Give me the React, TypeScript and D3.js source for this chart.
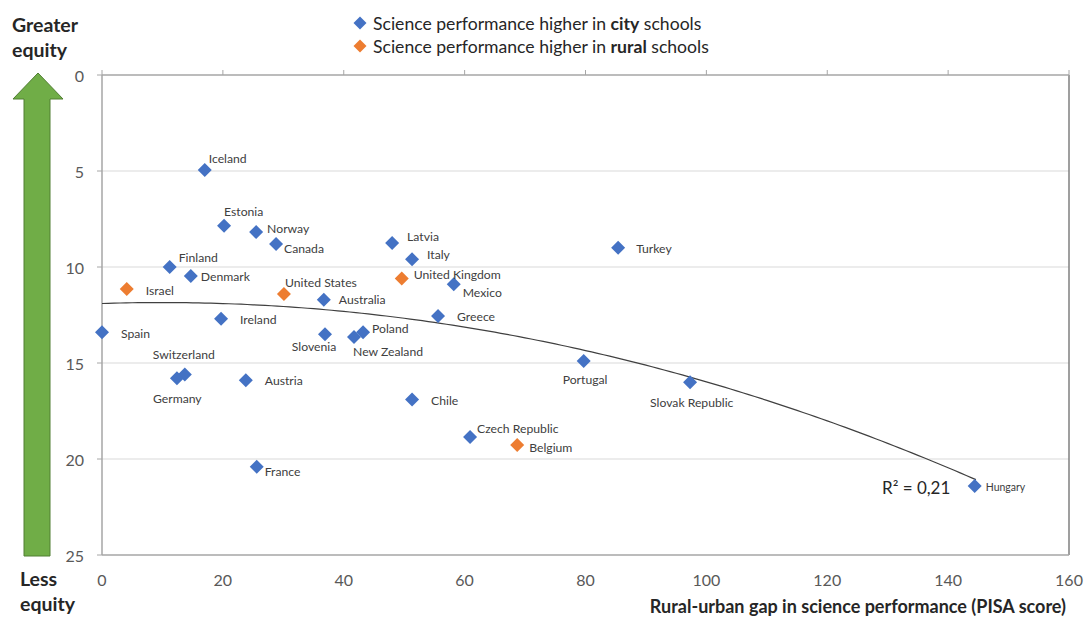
import React from "react";
import * as d3 from "d3";

const countries = [
  "Iceland", "Estonia", "Norway", "Canada", "Finland", "Denmark", "Israel", "United States",
  "Australia", "Ireland", "Spain", "Slovenia", "New Zealand", "Poland", "Switzerland", "Germany",
  "Austria", "France", "Latvia", "Italy", "United Kingdom", "Mexico", "Greece", "Chile",
  "Czech Republic", "Belgium", "Portugal", "Turkey", "Slovak Republic", "Hungary",
];
const gapValues = [
  17.0, 20.2, 25.5, 28.8, 11.2, 14.7, 4.1, 30.1,
  36.7, 19.7, 0.0, 36.9, 41.7, 43.2, 13.7, 12.4,
  23.8, 25.6, 48.0, 51.3, 49.6, 58.2, 55.6, 51.3,
  60.9, 68.7, 79.7, 85.4, 97.3, 144.4,
];
const equityValues = [
  4.95, 7.85, 8.18, 8.8, 10.0, 10.47, 11.15, 11.4,
  11.7, 12.7, 13.4, 13.5, 13.65, 13.4, 15.6, 15.8,
  15.9, 20.4, 8.75, 9.6, 10.6, 10.9, 12.55, 16.9,
  18.85, 19.27, 14.9, 9.0, 16.0, 21.4,
];
// "city" = higher in city schools, "rural" = higher in rural schools
const groups = [
  "city", "city", "city", "city", "city", "city", "rural", "rural",
  "city", "city", "city", "city", "city", "city", "city", "city",
  "city", "city", "city", "city", "rural", "city", "city", "city",
  "city", "rural", "city", "city", "city", "city",
];
const xTicks = [0, 20, 40, 60, 80, 100, 120, 140, 160];
const yTicks = [0, 5, 10, 15, 20, 25];
const trendCoefficients = [11.9, -0.0100, 0.000508]; // a + b x + c x^2
const rSquaredLabel = "R² = 0,21";

// label placement (offsets from point, px) and anchors
const labelPlacement: Record<string, [number, number, string]> = {
  "Iceland": [4, -12, "start"],
  "Estonia": [0, -14, "start"],
  "Norway": [11, -4, "start"],
  "Canada": [8, 5, "start"],
  "Finland": [9, -10, "start"],
  "Denmark": [10, 0, "start"],
  "Israel": [19, 1, "start"],
  "United States": [1, -11, "start"],
  "Australia": [15, 0, "start"],
  "Ireland": [19, 1, "start"],
  "Spain": [19, 1, "start"],
  "Slovenia": [-11, 12, "middle"],
  "New Zealand": [-1, 14, "start"],
  "Poland": [9, -4, "start"],
  "Switzerland": [-32, -20, "start"],
  "Germany": [-24, 20, "start"],
  "Austria": [19, 0, "start"],
  "France": [8, 5, "start"],
  "Latvia": [15, -7, "start"],
  "Italy": [15, -5, "start"],
  "United Kingdom": [12, -4, "start"],
  "Mexico": [9, 8, "start"],
  "Greece": [19, 1, "start"],
  "Chile": [19, 1, "start"],
  "Czech Republic": [7, -8, "start"],
  "Belgium": [12, 3, "start"],
  "Portugal": [-21, 18, "start"],
  "Turkey": [18, 1, "start"],
  "Slovak Republic": [-40, 20, "start"],
  "Hungary": [11, 1, "start"],
};

const W = 1084;
const H = 617;
const M = { left: 102, right: 1069, top: 75, bottom: 555 };
const FONT = "Lato, 'Open Sans', sans-serif";
const colors: Record<string, string> = { city: "#4472C4", rural: "#ED7D31" };

function Diamond({ cx, cy, r, fill }: { cx: number; cy: number; r: number; fill: string }) {
  return <path d={`M${cx},${cy - r}L${cx + r},${cy}L${cx},${cy + r}L${cx - r},${cy}Z`} fill={fill} />;
}

export default function App() {
  const x = d3.scaleLinear().domain([0, 160]).range([M.left, M.right]);
  const y = d3.scaleLinear().domain([0, 25]).range([M.top, M.bottom]);
  const trendX = d3.range(0, 144.6, 1).concat([144.6]);
  const trend = d3
    .line<number>()
    .x((v) => x(v))
    .y((v) => y(trendCoefficients[0] + trendCoefficients[1] * v + trendCoefficients[2] * v * v))(trendX);

  return (
    <svg width={W} height={H} style={{ position: "absolute", left: 0, top: 0, background: "#fff" }} fontFamily={FONT}>
      {/* gridlines */}
      {yTicks.filter((t) => t !== 0 && t !== 25).map((t) => (
        <line key={t} x1={M.left} x2={M.right} y1={y(t)} y2={y(t)} stroke="#D9D9D9" strokeWidth={1.2} />
      ))}
      {/* plot border */}
      <line x1={M.right} x2={M.right} y1={M.top} y2={M.bottom} stroke="#7F7F7F" strokeWidth={1.5} />
      <line x1={M.left} x2={M.right} y1={M.bottom} y2={M.bottom} stroke="#A6A6A6" strokeWidth={1.5} />
      {/* x axis (at top) */}
      <line x1={M.left} x2={M.right} y1={M.top} y2={M.top} stroke="#A6A6A6" strokeWidth={1.5} />
      {xTicks.map((t) => (
        <line key={"xt" + t} x1={x(t)} x2={x(t)} y1={M.top} y2={M.top - 5} stroke="#A6A6A6" strokeWidth={1} />
      ))}
      {/* y axis */}
      <line x1={M.left} x2={M.left} y1={M.top} y2={M.bottom} stroke="#A6A6A6" strokeWidth={1.5} />
      {yTicks.map((t) => (
        <line key={"yt" + t} x1={M.left - 5} x2={M.left} y1={y(t)} y2={y(t)} stroke="#A6A6A6" strokeWidth={1} />
      ))}
      {yTicks.map((t) => (
        <text key={"yl" + t} x={84} y={y(t)} textAnchor="end" dominantBaseline="central" fontSize={16} fill="#595959">
          {t}
        </text>
      ))}
      {xTicks.map((t) => (
        <text key={"xl" + t} x={x(t)} y={579} textAnchor="middle" dominantBaseline="central" fontSize={16} fill="#595959">
          {t}
        </text>
      ))}
      <text x={1066} y={606} textAnchor="end" dominantBaseline="central" fontSize={18} fontWeight="bold" fill="#262626">
        Rural-urban gap in science performance (PISA score)
      </text>

      {/* trend line */}
      <path d={trend || ""} fill="none" stroke="#404040" strokeWidth={1.2} />
      <text x={882} y={487} dominantBaseline="central" fontSize={17} fill="#262626">{rSquaredLabel}</text>

      {/* points */}
      {countries.map((c, i) => (
        <Diamond key={c} cx={x(gapValues[i])} cy={y(equityValues[i])} r={7} fill={colors[groups[i]]} />
      ))}
      {countries.map((c, i) => {
        const [dx, dy, anchor] = labelPlacement[c];
        return (
          <text
            key={"l" + c}
            x={x(gapValues[i]) + dx}
            y={y(equityValues[i]) + dy}
            textAnchor={anchor}
            dominantBaseline="central"
            fontSize={c === "Hungary" ? 10.5 : 12.2}
            fill="#404040"
          >
            {c}
          </text>
        );
      })}

      {/* legend */}
      <Diamond cx={360} cy={23} r={6.5} fill={colors.city} />
      <text x={373} y={23} dominantBaseline="central" fontSize={17.6} fill="#262626">
        Science performance higher in <tspan fontWeight="bold">city</tspan> schools
      </text>
      <Diamond cx={360} cy={46} r={6.5} fill={colors.rural} />
      <text x={373} y={46} dominantBaseline="central" fontSize={17.6} fill="#262626">
        Science performance higher in <tspan fontWeight="bold">rural</tspan> schools
      </text>

      {/* equity arrow */}
      <path
        d="M38,73 L63,99 L50,99 L50,556 L24,556 L24,99 L13,99 Z"
        fill="#70AD47"
        stroke="#507E32"
        strokeWidth={1}
      />
      <text x={12} y={24} dominantBaseline="central" fontSize={19.5} fontWeight="bold" fill="#262626">Greater</text>
      <text x={12} y={49} dominantBaseline="central" fontSize={19.5} fontWeight="bold" fill="#262626">equity</text>
      <text x={20} y={578} dominantBaseline="central" fontSize={19.5} fontWeight="bold" fill="#262626">Less</text>
      <text x={20} y={603} dominantBaseline="central" fontSize={19.5} fontWeight="bold" fill="#262626">equity</text>
    </svg>
  );
}
